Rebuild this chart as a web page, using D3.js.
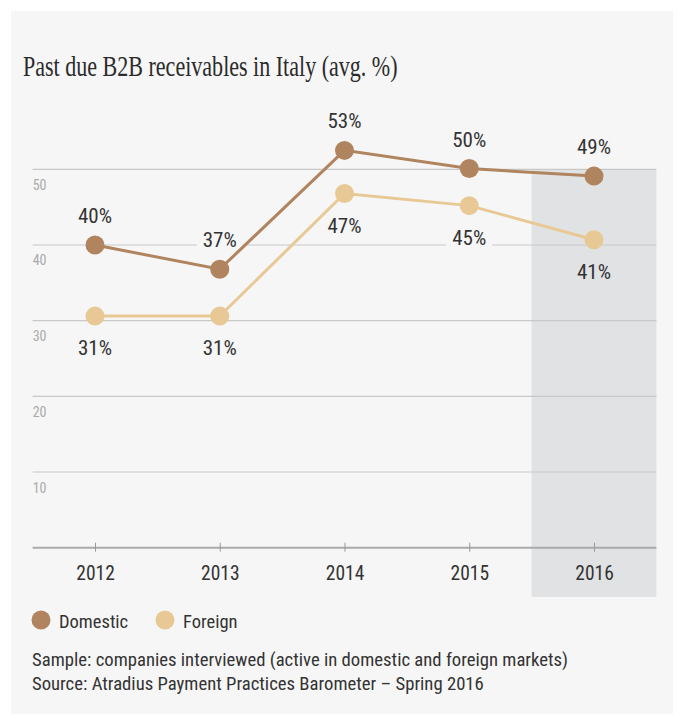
<!DOCTYPE html>
<html>
<head>
<meta charset="utf-8">
<script src="https://cdn.jsdelivr.net/npm/d3@7"></script>
<style>
  body { margin: 0; background: #fff; }
  text { font-family: "Liberation Sans Narrow", "Roboto Condensed", Roboto, sans-serif; }
</style>
</head>
<body>
<div id="chart"></div>
<script>
const years = ["2012", "2013", "2014", "2015", "2016"]
const domestic = [40, 36.8, 52.5, 50.1, 49.1]
const foreign = [30.6, 30.6, 46.8, 45.2, 40.7]
const domesticLabels = ["40%", "37%", "53%", "50%", "49%"]
const foreignLabels = ["31%", "31%", "47%", "45%", "41%"]
const yTicks = [10, 20, 30, 40, 50]
const highlightYear = "2016"

const width = 680
const height = 717
const bg = "#f6f6f6"
const band = "#e1e2e4"
const colDom = "#b0845e"
const colFor = "#e8c995"

const svg = d3.select("div#chart").append("svg").attr("width", width).attr("height", height)

svg.append("rect").attr("x", 11).attr("y", 11).attr("width", 662).attr("height", 703).attr("fill", bg)

// title: serif, squeezed to match the narrow face of the original
svg.append("text")
  .attr("transform", "translate(23, 76) scale(0.735, 1)")
  .style("font-family", "'Liberation Serif', 'DejaVu Serif', serif")
  .style("font-size", "30px")
  .attr("fill", "#2b2b2b")
  .text("Past due B2B receivables in Italy (avg. %)")

const x = d3.scalePoint().domain(years).range([95, 594])
const step = x.step()
const y = d3.scaleLinear().domain([0, 50]).range([547.7, 169.3])

const g = svg.append("g")

// highlighted year
g.append("rect")
  .attr("x", x(highlightYear) - step / 2)
  .attr("y", y(50))
  .attr("width", step)
  .attr("height", 597 - y(50))
  .attr("fill", band)

// gridlines
const left = x(years[0]) - step / 2
const right = x(years[years.length - 1]) + step / 2
g.selectAll(".grid").data(yTicks).enter()
  .append("line")
  .attr("x1", left).attr("x2", right)
  .attr("y1", d => y(d)).attr("y2", d => y(d))
  .attr("stroke", "#c8c8c8").attr("stroke-width", 1.2)

g.selectAll(".ylab").data(yTicks).enter()
  .append("text")
  .attr("x", left).attr("y", d => y(d) + 20.5)
  .attr("fill", "#aaaaaa").style("font-size", "14px")
  .text(d => d)

// x axis
const xAxis = d3.axisBottom(x).tickSize(4)
const xAxisGroup = g.append("g").attr("transform", `translate(0, ${y(0)})`).call(xAxis)
xAxisGroup.select(".domain").remove()
xAxisGroup.insert("line", ":first-child")
  .attr("x1", left).attr("x2", right)
  .attr("stroke", "#aaaaaa").attr("stroke-width", 2)
xAxisGroup.selectAll(".tick line").attr("y1", -5).attr("stroke", "#999")
xAxisGroup.selectAll(".tick text")
  .attr("y", 32.5).attr("dy", null)
  .attr("fill", "#333").style("font-size", "19.5px")
  .style("font-family", "'Liberation Sans Narrow', 'Roboto Condensed', Roboto, sans-serif")

const line = d3.line().x((d, i) => x(years[i])).y(d => y(d))

const series = [
  { name: "Domestic", values: domestic, labels: domesticLabels, color: colDom, dy: -29 },
  { name: "Foreign", values: foreign, labels: foreignLabels, color: colFor, dy: 32 }
]

// labels with background halo
series.forEach(s => {
  const lg = g.append("g")
  s.values.forEach((v, i) => {
    const ly = y(v) + s.dy
    const t = lg.append("text")
      .attr("x", x(years[i])).attr("y", ly)
      .attr("text-anchor", "middle").attr("dominant-baseline", "central")
      .attr("fill", "#333").style("font-size", "21px")
      .text(s.labels[i])
    const bb = t.node().getBBox()
    lg.insert("rect", "text")
      .attr("x", bb.x - 6).attr("y", bb.y + 3)
      .attr("width", bb.width + 12).attr("height", bb.height - 6)
      .attr("fill", years[i] === highlightYear && ly > y(50) ? band : bg)
  })
})

series.slice().reverse().forEach(s => {
  g.append("path").datum(s.values)
    .attr("d", line)
    .attr("fill", "none").attr("stroke", s.color).attr("stroke-width", 3)
  g.selectAll(null).data(s.values).enter()
    .append("circle")
    .attr("cx", (d, i) => x(years[i])).attr("cy", d => y(d))
    .attr("r", 9.5).attr("fill", s.color)
})

// legend
const lx = [41, 165]
series.forEach((s, i) => {
  svg.append("circle").attr("cx", lx[i]).attr("cy", 620).attr("r", 9.5).attr("fill", s.color)
  svg.append("text").attr("x", lx[i] + 18).attr("y", 627.5)
    .attr("fill", "#333").style("font-size", "18.5px")
    .text(s.name)
})

const notes = [
  "Sample: companies interviewed (active in domestic and foreign markets)",
  "Source: Atradius Payment Practices Barometer \u2013 Spring 2016"
]
svg.selectAll(".note").data(notes).enter()
  .append("text")
  .attr("x", 32).attr("y", (d, i) => 666 + i * 24)
  .attr("fill", "#333").style("font-size", "18.7px")
  .text(d => d)
</script>
</body>
</html>
